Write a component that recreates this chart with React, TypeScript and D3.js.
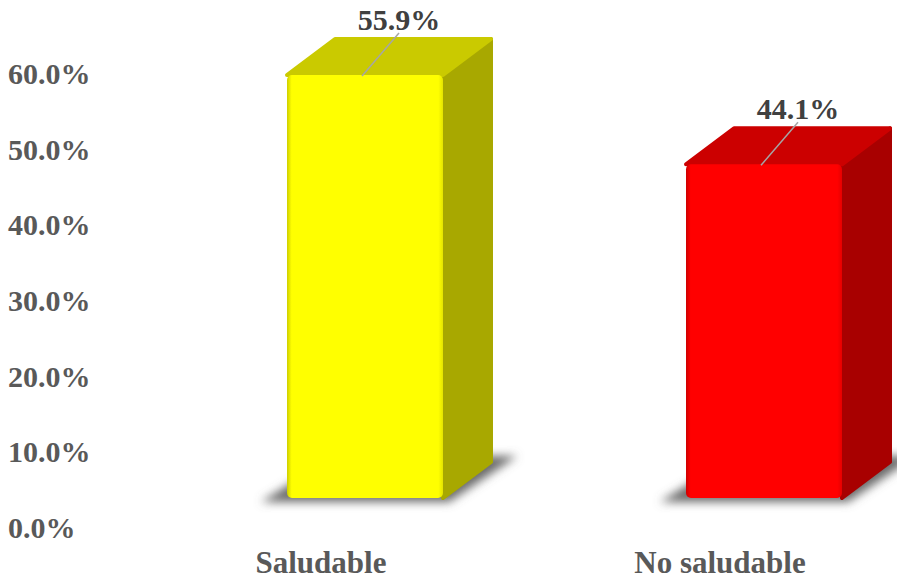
import * as d3 from "d3";

const categories = ["Saludable", "No saludable"];
const values = [55.9, 44.1];
const valueLabels = ["55.9%", "44.1%"];
const tickValues = [0, 10, 20, 30, 40, 50, 60];
const frontColors = ["#FFFF00", "#FF0000"];
const topColors = ["#CACA00", "#CC0000"];
const sideColors = ["#A8A800", "#A80000"];

const W = 897;
const H = 582;
const FONT = "'Liberation Serif', 'Times New Roman', serif";

export default function App() {
  const y = d3.scaleLinear().domain([0, 60]).range([531, 77]);
  const x = d3.scalePoint<string>().domain(categories).range([321, 720]);
  const barW = 156;
  const dx = 48; // depth of box
  const dy = 36;
  const offX = 44; // bars set back from the axis plane
  const offY = 33;
  const fmt = d3.format(".1f");

  return (
    <svg
      width={W}
      height={H}
      style={{ position: "absolute", left: 0, top: 0, background: "#fff" }}
    >
      <defs>
        <filter id="shadow" x="-30%" y="-100%" width="160%" height="300%">
          <feGaussianBlur stdDeviation="5" />
        </filter>
        {frontColors.map((c, i) => (
          <linearGradient key={i} id={`front${i}`} x1="0" x2="1" y1="0" y2="0">
            <stop offset="0" stopColor={d3.color(c)!.darker(0.6).toString()} />
            <stop offset="0.03" stopColor={c} />
            <stop offset="0.97" stopColor={c} />
            <stop offset="1" stopColor={d3.color(c)!.darker(0.3).toString()} />
          </linearGradient>
        ))}
      </defs>

      {/* y tick labels */}
      {tickValues.map((t) => (
        <text
          key={t}
          x={8}
          y={y(t)}
          dominantBaseline="middle"
          fontFamily={FONT}
          fontWeight="bold"
          fontSize={30}
          fill="#595959"
        >
          {fmt(t) + "%"}
        </text>
      ))}

      {/* category labels */}
      {categories.map((c) => (
        <text
          key={c}
          x={x(c)}
          y={566}
          textAnchor="middle"
          dominantBaseline="middle"
          fontFamily={FONT}
          fontWeight="bold"
          fontSize={31}
          fill="#595959"
        >
          {c}
        </text>
      ))}

      {categories.map((c, i) => {
        const cx = (x(c) as number) + offX;
        const x0 = cx - barW / 2;
        const x1 = cx + barW / 2;
        const yb = y(0) - offY;
        const yt = y(values[i]) - offY;
        const top = `${x0},${yt} ${x0 + dx},${yt - dy} ${x1 + dx},${yt - dy} ${x1},${yt}`;
        const side = `${x1},${yt} ${x1 + dx},${yt - dy} ${x1 + dx},${yb - dy} ${x1},${yb}`;
        const shadow = `${x0 - 26},${yb + 4} ${x1 + 6},${yb + 4} ${x1 + dx + 26},${yb - dy - 6} ${x0 + dx},${yb - dy - 6}`;
        const lx = cx + 34;
        const ly = yt - 52;
        return (
          <g key={c}>
            <polygon points={shadow} fill="#6a6a6a" filter="url(#shadow)" />
            <polygon points={side} fill={sideColors[i]} stroke={sideColors[i]} strokeLinejoin="round" strokeWidth={4} />
            <polygon points={top} fill={topColors[i]} stroke={topColors[i]} strokeLinejoin="round" strokeWidth={4} />
            <rect x={x0} y={yt} width={barW} height={yb - yt} rx={5} fill={`url(#front${i})`} />
            <line x1={cx - 3} y1={yt + 1} x2={lx} y2={ly + 10} stroke="#A6A6A6" strokeWidth={1.5} />
            <text
              x={lx}
              y={ly}
              textAnchor="middle"
              dominantBaseline="middle"
              fontFamily={FONT}
              fontWeight="bold"
              fontSize={30}
              fill="#404040"
            >
              {valueLabels[i]}
            </text>
          </g>
        );
      })}
    </svg>
  );
}
